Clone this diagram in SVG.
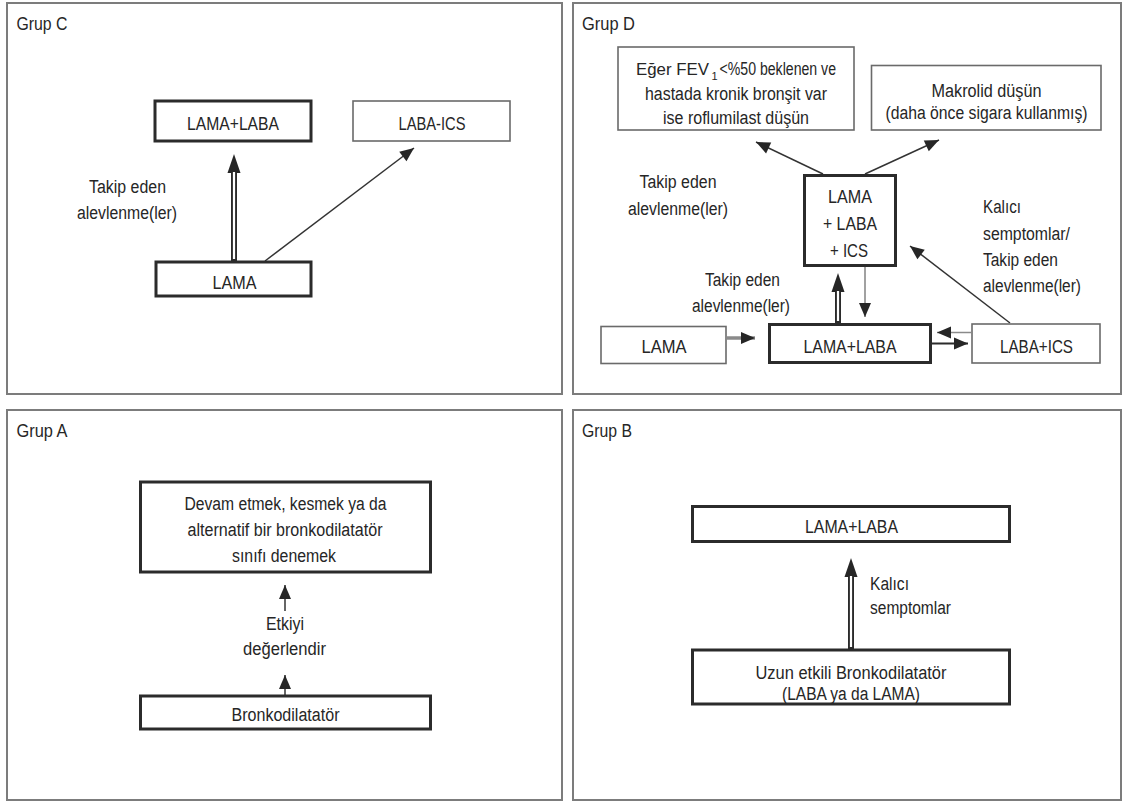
<svg xmlns="http://www.w3.org/2000/svg" width="1125" height="802" viewBox="0 0 1125 802">
<style>
.panel{fill:#fff;stroke:#7c7c7c;stroke-width:2}
.thick{fill:#fff;stroke:#2b2b2b;stroke-width:3}
.thin{fill:#fff;stroke:#6a6a6a;stroke-width:1.6}
.t{font-family:"Liberation Sans",Arial,sans-serif;font-size:18px;fill:#262626}
.t17{font-family:"Liberation Sans",Arial,sans-serif;font-size:17px;fill:#262626}
.sub{font-family:"Liberation Sans",Arial,sans-serif;font-size:11px;fill:#262626}
.m{text-anchor:middle}
.ln{fill:none;stroke:#333;stroke-width:1.5}
.lg{fill:none;stroke:#8a8a8a;stroke-width:1.6}
.dbl{fill:none;stroke:#2b2b2b;stroke-width:6}
.dblw{fill:none;stroke:#fff;stroke-width:2.2}
</style>
<defs>
<marker id="ah" markerUnits="userSpaceOnUse" markerWidth="16" markerHeight="14" refX="14" refY="6" orient="auto" overflow="visible">
<path d="M0,0 L14,6 L0,12 Z" fill="#262626"/>
</marker>
<marker id="ahb" markerUnits="userSpaceOnUse" markerWidth="20" markerHeight="14" refX="0" refY="6.5" orient="auto" overflow="visible">
<path d="M0,0 L19,6.5 L0,13 Z" fill="#262626"/>
</marker>
</defs>
<rect width="1125" height="802" fill="#fff"/>

<g id="panels">
<rect class="panel" x="7" y="3" width="555" height="391"/>
<rect class="panel" x="573" y="3" width="548" height="391"/>
<rect class="panel" x="7" y="410" width="555" height="390"/>
<rect class="panel" x="573" y="410" width="548" height="390"/>
<text class="t" x="16.5" y="30" textLength="51" lengthAdjust="spacingAndGlyphs">Grup C</text>
<text class="t" x="582" y="30" textLength="53" lengthAdjust="spacingAndGlyphs">Grup D</text>
<text class="t" x="16.5" y="437" textLength="51" lengthAdjust="spacingAndGlyphs">Grup A</text>
<text class="t" x="582" y="437" textLength="50" lengthAdjust="spacingAndGlyphs">Grup B</text>
</g>

<g id="connectors">
<!-- Grup C -->
<line class="dbl" x1="234" y1="261" x2="234" y2="173" marker-end="url(#ahb)"/>
<line class="dblw" x1="234" y1="259" x2="234" y2="172"/>
<line class="ln" x1="265" y1="261" x2="414" y2="148" marker-end="url(#ah)"/>
<!-- Grup D -->
<line class="ln" x1="823" y1="174" x2="756" y2="142" marker-end="url(#ah)"/>
<line class="ln" x1="865" y1="174" x2="939" y2="140" marker-end="url(#ah)"/>
<line class="lg" x1="865" y1="267" x2="865" y2="317" marker-end="url(#ah)"/>
<line class="dbl" x1="838" y1="323" x2="838" y2="292" marker-end="url(#ahb)"/>
<line class="dblw" x1="838" y1="321" x2="838" y2="291"/>
<line x1="727" y1="338" x2="755" y2="338" stroke="#8a8a8a" stroke-width="3.5" marker-end="url(#ah)"/>
<line x1="932" y1="343.5" x2="968" y2="343.5" stroke="#2b2b2b" stroke-width="2" marker-end="url(#ah)"/>
<line class="lg" x1="971" y1="332.5" x2="937" y2="332.5" stroke-width="2" marker-end="url(#ah)"/>
<line class="ln" x1="1010" y1="323" x2="910" y2="246" marker-end="url(#ah)"/>
<!-- Grup A -->
<line class="ln" x1="285" y1="611" x2="285" y2="585" marker-end="url(#ah)"/>
<line class="ln" x1="285" y1="695" x2="285" y2="675" marker-end="url(#ah)"/>
<!-- Grup B -->
<line class="dbl" x1="851" y1="649" x2="851" y2="577" marker-end="url(#ahb)"/>
<line class="dblw" x1="851" y1="647" x2="851" y2="576"/>
</g>

<g id="c-lama-laba">
<rect class="thick" x="155" y="101" width="156" height="40"/>
<text class="t m" x="233" y="130" textLength="92" lengthAdjust="spacingAndGlyphs">LAMA+LABA</text>
</g>
<g id="c-laba-ics">
<rect class="thin" x="353" y="101" width="157" height="40"/>
<text class="t m" x="432" y="130" textLength="67" lengthAdjust="spacingAndGlyphs">LABA-ICS</text>
</g>
<g id="c-lama">
<rect class="thick" x="156" y="262" width="155" height="34"/>
<text class="t m" x="234.5" y="289" textLength="44" lengthAdjust="spacingAndGlyphs">LAMA</text>
</g>
<g id="c-label">
<text class="t m" x="127.5" y="193" textLength="77" lengthAdjust="spacingAndGlyphs">Takip eden</text>
<text class="t m" x="127" y="219" textLength="100" lengthAdjust="spacingAndGlyphs">alevlenme(ler)</text>
</g>

<g id="d-fev">
<rect class="thin" x="618" y="47" width="236" height="83"/>
<text class="t17" x="636" y="75" textLength="73" lengthAdjust="spacingAndGlyphs">Eğer FEV</text>
<text class="sub" x="711.5" y="80">1</text>
<text class="t" x="719.5" y="75" textLength="116.5" lengthAdjust="spacingAndGlyphs">&lt;%50 beklenen ve</text>
<text class="t m" x="736" y="99.5" textLength="182" lengthAdjust="spacingAndGlyphs">hastada kronik bronşit var</text>
<text class="t m" x="736" y="124" textLength="146" lengthAdjust="spacingAndGlyphs">ise roflumilast düşün</text>
</g>
<g id="d-makrolid">
<rect class="thin" x="871.5" y="65.5" width="229.5" height="64.5"/>
<text class="t m" x="986.5" y="96.5" textLength="110" lengthAdjust="spacingAndGlyphs">Makrolid düşün</text>
<text class="t m" x="986.5" y="118.5" textLength="202" lengthAdjust="spacingAndGlyphs">(daha önce sigara kullanmış)</text>
</g>
<g id="d-triple">
<rect class="thick" x="804.5" y="175.5" width="91" height="90"/>
<text class="t m" x="850" y="203" textLength="44" lengthAdjust="spacingAndGlyphs">LAMA</text>
<text class="t m" x="850" y="230" textLength="54" lengthAdjust="spacingAndGlyphs">+ LABA</text>
<text class="t m" x="849" y="256.5" textLength="38" lengthAdjust="spacingAndGlyphs">+ ICS</text>
</g>
<g id="d-lama">
<rect class="thin" x="601" y="326.5" width="125" height="37"/>
<text class="t m" x="664" y="353" textLength="45" lengthAdjust="spacingAndGlyphs">LAMA</text>
</g>
<g id="d-lama-laba">
<rect class="thick" x="769.5" y="324.5" width="161" height="38"/>
<text class="t m" x="850" y="353" textLength="93" lengthAdjust="spacingAndGlyphs">LAMA+LABA</text>
</g>
<g id="d-laba-ics">
<rect class="thin" x="972" y="324" width="128" height="39"/>
<text class="t m" x="1036.5" y="353" textLength="73" lengthAdjust="spacingAndGlyphs">LABA+ICS</text>
</g>
<g id="d-labels">
<text class="t m" x="678" y="188" textLength="77" lengthAdjust="spacingAndGlyphs">Takip eden</text>
<text class="t m" x="678" y="215" textLength="100" lengthAdjust="spacingAndGlyphs">alevlenme(ler)</text>
<text class="t m" x="742.5" y="286" textLength="75" lengthAdjust="spacingAndGlyphs">Takip eden</text>
<text class="t m" x="741" y="312" textLength="98" lengthAdjust="spacingAndGlyphs">alevlenme(ler)</text>
<text class="t" x="983" y="213" textLength="38" lengthAdjust="spacingAndGlyphs">Kalıcı</text>
<text class="t" x="983" y="240" textLength="87" lengthAdjust="spacingAndGlyphs">semptomlar/</text>
<text class="t" x="983" y="266" textLength="75" lengthAdjust="spacingAndGlyphs">Takip eden</text>
<text class="t" x="983" y="292" textLength="98" lengthAdjust="spacingAndGlyphs">alevlenme(ler)</text>
</g>

<g id="a-top">
<rect class="thick" x="140.5" y="482" width="290" height="90"/>
<text class="t m" x="285.5" y="510" textLength="202" lengthAdjust="spacingAndGlyphs">Devam etmek, kesmek ya da</text>
<text class="t m" x="285" y="536" textLength="195" lengthAdjust="spacingAndGlyphs">alternatif bir bronkodilatatör</text>
<text class="t m" x="284" y="561.5" textLength="104" lengthAdjust="spacingAndGlyphs">sınıfı denemek</text>
</g>
<g id="a-label">
<text class="t m" x="285" y="630" textLength="38" lengthAdjust="spacingAndGlyphs">Etkiyi</text>
<text class="t m" x="284.5" y="655" textLength="83" lengthAdjust="spacingAndGlyphs">değerlendir</text>
</g>
<g id="a-bronko">
<rect class="thick" x="140.5" y="696" width="290" height="33"/>
<text class="t m" x="285.5" y="721" textLength="108" lengthAdjust="spacingAndGlyphs">Bronkodilatatör</text>
</g>

<g id="b-top">
<rect class="thick" x="692.5" y="506.5" width="317" height="35"/>
<text class="t m" x="851.5" y="533" textLength="93" lengthAdjust="spacingAndGlyphs">LAMA+LABA</text>
</g>
<g id="b-label">
<text class="t" x="870" y="590" textLength="39" lengthAdjust="spacingAndGlyphs">Kalıcı</text>
<text class="t" x="870" y="614" textLength="81" lengthAdjust="spacingAndGlyphs">semptomlar</text>
</g>
<g id="b-bottom">
<rect class="thick" x="692.5" y="650" width="317" height="54"/>
<text class="t m" x="851" y="679" textLength="191" lengthAdjust="spacingAndGlyphs">Uzun etkili Bronkodilatatör</text>
<text class="t m" x="851" y="700" textLength="138" lengthAdjust="spacingAndGlyphs">(LABA ya da LAMA)</text>
</g>
</svg>
